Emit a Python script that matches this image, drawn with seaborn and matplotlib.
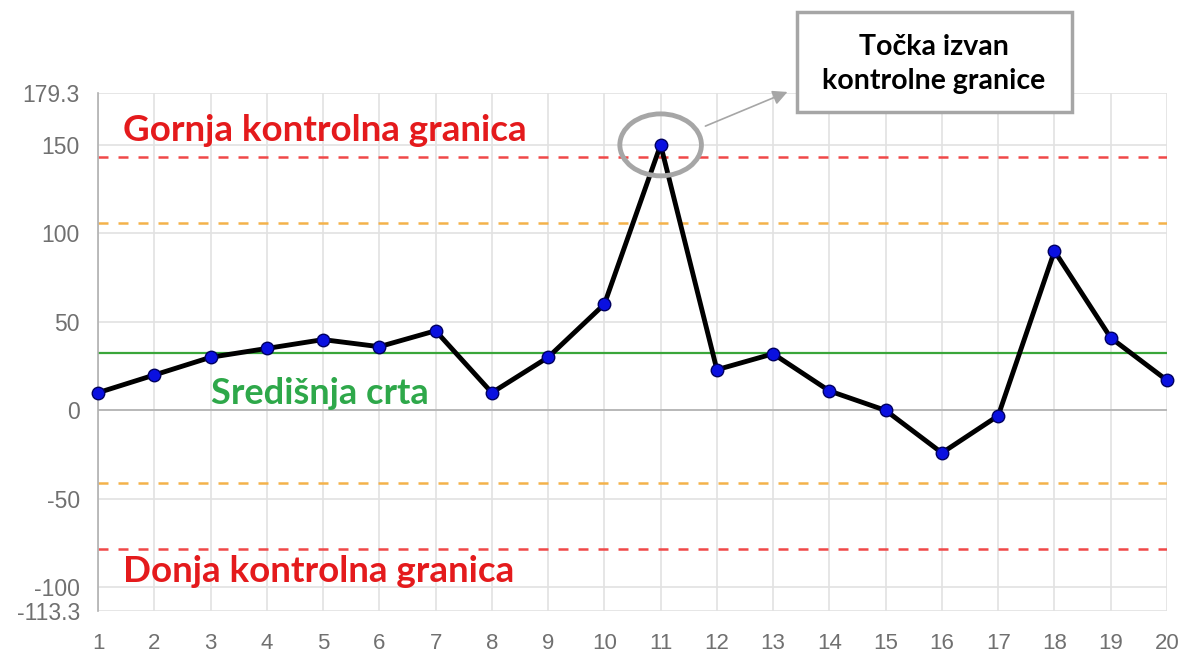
import matplotlib
matplotlib.use("Agg")
import matplotlib.pyplot as plt
import seaborn as sns
import pandas as pd
from matplotlib.patches import Ellipse, Rectangle

# ---- data ----
samples = list(range(1, 21))
values = [10, 20, 30, 35, 40, 36, 45, 10, 30, 60, 150, 23, 32, 11, 0, -24, -3, 90, 41, 17]
center_line = 32.5
ucl = 143
lcl = -78
warn_upper = 106
warn_lower = -41
y_ticks = [179.3, 150, 100, 50, 0, -50, -100, -113.3]
y_tick_labels = ["179.3", "150", "100", "50", "0", "-50", "-100", "-113.3"]
label_ucl = "Gornja kontrolna granica"
label_lcl = "Donja kontrolna granica"
label_cl = "Središnja crta"
note_text = "Točka izvan\nkontrolne granice"
outlier_index = 11

df = pd.DataFrame({"sample": samples, "value": values})

sns.set_theme(style="whitegrid")
plt.rcParams["font.family"] = ["Liberation Sans", "DejaVu Sans"]

fig = plt.figure(figsize=(11.88, 6.58), dpi=100)
ax = fig.add_axes([98/1188, 1-611/658, (1167-98)/1188, (611-93)/658])

grid_c = "#e2e2e2"
ax.set_xlim(1, 20)
ax.set_ylim(-113.3, 179.3)
ax.set_xticks(samples)
ax.set_yticks(y_ticks)
ax.set_yticklabels(y_tick_labels)
ax.grid(True, color=grid_c, linewidth=1.2)
for s in ["top", "right"]:
    ax.spines[s].set_visible(False)
ax.spines["bottom"].set_visible(False)
ax.spines["left"].set_color("#b0b0b0")
ax.spines["left"].set_linewidth(1.2)
ax.axhline(0, color="#b0b0b0", linewidth=1.2, zorder=1)
ax.tick_params(axis="both", colors="#707070", length=12, width=1.2)
ax.tick_params(axis="x", color=grid_c, pad=4, labelsize=16)
ax.tick_params(axis="y", color=grid_c, labelsize=16.5, pad=1)

# control lines
ax.axhline(ucl, color="#f04848", linestyle=(0, (4, 4)), linewidth=1.8, zorder=2)
ax.axhline(lcl, color="#f04848", linestyle=(0, (4, 4)), linewidth=1.8, zorder=2)
ax.axhline(warn_upper, color="#f4b24a", linestyle=(0, (4, 4)), linewidth=1.8, zorder=2)
ax.axhline(warn_lower, color="#f4b24a", linestyle=(0, (4, 4)), linewidth=1.8, zorder=2)
ax.axhline(center_line, color="#3aa63a", linewidth=1.6, zorder=2)

sns.lineplot(data=df, x="sample", y="value", ax=ax, color="black", linewidth=3.5,
             marker="o", markersize=9, markerfacecolor="#0a10e0",
             markeredgecolor="#000060", markeredgewidth=1, zorder=5, clip_on=False)
ax.set_xlabel("")
ax.set_ylabel("")

# labels
ax.text(1.45, 158, label_ucl, color="#e41a1c", fontsize=26.5, fontweight="bold",
        family=["Lato", "DejaVu Sans"], va="center", ha="left")
ax.text(1.45, -91, label_lcl, color="#e41a1c", fontsize=26.5, fontweight="bold",
        family=["Lato", "DejaVu Sans"], va="center", ha="left")
ax.text(3.0, 9.5, label_cl, color="#2ea84a", fontsize=26, fontweight="bold",
        family=["Lato", "DejaVu Sans"], va="center", ha="left")

# highlight circle
ox = samples[outlier_index - 1]
oy = values[outlier_index - 1]
ax.add_patch(Ellipse((ox, oy), 1.45, 35, fill=False, edgecolor="#a6a6a6",
                     linewidth=3.5, zorder=6, clip_on=False))
ax.annotate("", xy=(13.3, 180.5), xytext=(11.75, 160),
            arrowprops=dict(arrowstyle="-|>", color="#a6a6a6", lw=1.2,
                            mutation_scale=22), annotation_clip=False, zorder=6)

# note box
fig.patches.append(Rectangle((797/1188, 1-112/658), 275/1188, 100/658,
                             transform=fig.transFigure, facecolor="white",
                             edgecolor="#a6a6a6", linewidth=2.5, zorder=10))
fig.text(934/1188, 1-64/658, note_text, ha="center", va="center", fontsize=20.5,
         fontweight="bold", color="black", linespacing=1.4,
         family=["Lato", "DejaVu Sans"], zorder=11)

fig.savefig("out.png", dpi=100, facecolor="white")
